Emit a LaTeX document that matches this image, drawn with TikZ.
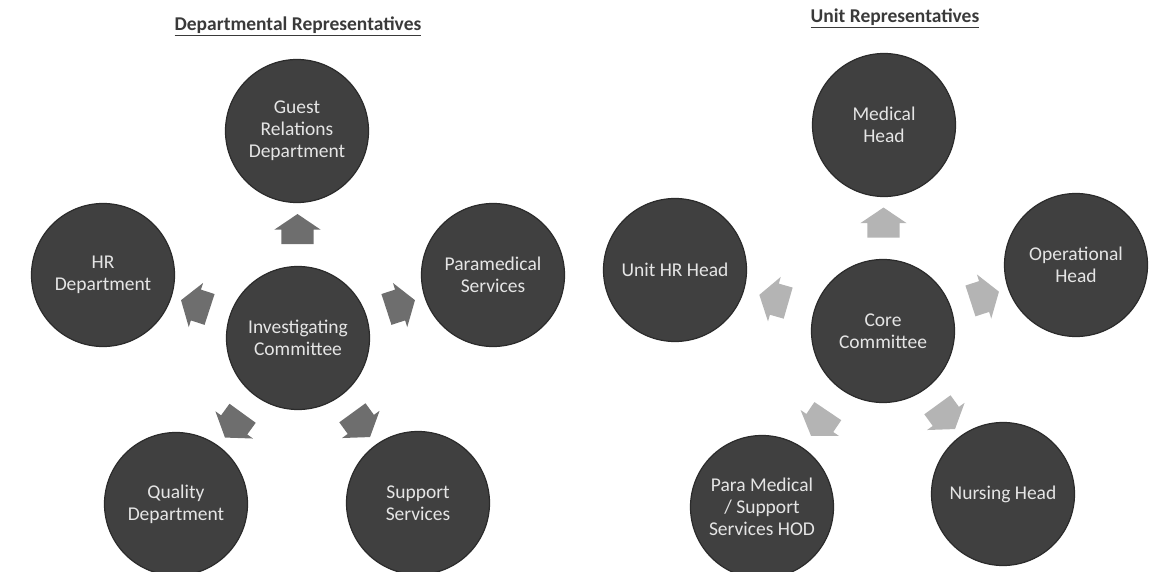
\documentclass[tikz,border=0pt]{standalone}
\usepackage{fontspec}
\setmainfont{Carlito}
\usetikzlibrary{shapes.arrows,calc}
\definecolor{cdark}{HTML}{404040}
\definecolor{cedge}{HTML}{2B2B2B}
\definecolor{adark}{HTML}{6E6E6E}
\definecolor{alight}{HTML}{B4B4B4}
\definecolor{ttext}{HTML}{3A3A3A}

\begin{document}
\begin{tikzpicture}[x=1pt, y=-1pt,
  unit/.style={circle, draw=cedge, line width=1.2pt, fill=cdark, minimum size=143pt, inner sep=0pt, align=center, text=white!90!black, font=\fontsize{19.5}{22}\selectfont},
  blk/.style={single arrow, draw=none, minimum height=30pt, inner xsep=0pt, inner ysep=16pt, single arrow head extend=7pt, single arrow tip angle=112},
  larr/.style={blk, fill=adark},
  rarr/.style={blk, fill=alight},
  ttl/.style={font=\fontsize{19.5}{22}\selectfont\bfseries, text=ttext}]
\useasboundingbox (0,0) rectangle (1156,572);
% left: departmental representatives
\node[ttl] (t1) at (298,26) {\underline{Departmental Representatives}};
\node[unit] (ic) at (298,338) {Investigating\\Committee};
\node[unit] (gr) at (297,131) {Guest\\Relations\\Department};
\node[unit] (hr) at (103,275) {HR\\Department};
\node[unit] (pm) at (493,275) {Paramedical\\Services};
\node[unit] (qd) at (176,504) {Quality\\Department};
\node[unit] (ss) at (418,503) {Support\\Services};
\node[larr, rotate=90] (a1) at ($(ic)!.5!(gr)$) {};
\node[larr, rotate=162] (a2) at ($(ic)!.5!(hr)$) {};
\node[larr, rotate=18] (a3) at ($(ic)!.5!(pm)$) {};
\node[larr, rotate=234] (a4) at ($(ic)!.5!(qd)$) {};
\node[larr, rotate=306] (a5) at ($(ic)!.5!(ss)$) {};
% right: unit representatives
\node[ttl] (t2) at (895,18) {\underline{Unit Representatives}};
\node[unit] (cc) at (883,331) {Core\\Committee};
\node[unit] (mh) at (884,125) {Medical\\Head};
\node[unit] (uh) at (675,270) {Unit HR Head};
\node[unit] (oh) at (1076,265) {Operational\\Head};
\node[unit] (ph) at (762,507) {Para Medical\\/ Support\\Services HOD};
\node[unit] (nh) at (1003,494) {Nursing Head};
\node[rarr, rotate=90] (b1) at ($(cc)!.5!(mh)$) {};
\node[rarr, rotate=164] (b2) at ($(cc)!.5!(uh)$) {};
\node[rarr, rotate=18] (b3) at ($(cc)!.5!(oh)$) {};
\node[rarr, rotate=236] (b4) at ($(cc)!.5!(ph)$) {};
\node[rarr, rotate=306] (b5) at ($(cc)!.5!(nh)$) {};
\end{tikzpicture}
\end{document}
